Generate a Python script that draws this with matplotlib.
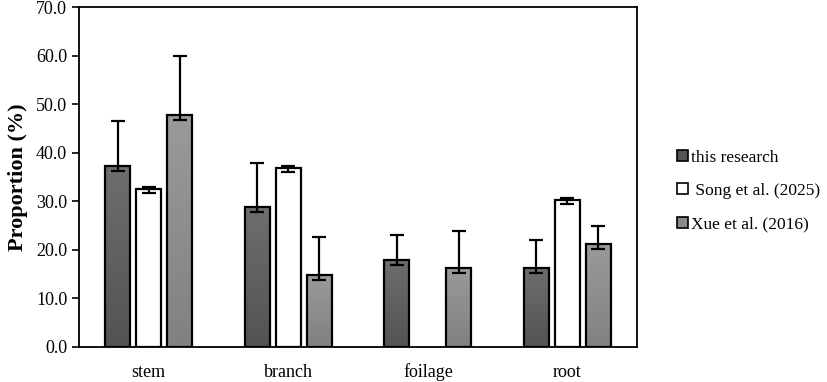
import numpy as np
import matplotlib
matplotlib.use("Agg")
import matplotlib.pyplot as plt
from matplotlib.colors import LinearSegmentedColormap
from matplotlib.patches import Patch

# datos
categories = ["stem", "branch", "foilage", "root"]
series = ["this research", " Song et al. (2025)", "Xue et al. (2016)"]

this_research = [37.2, 28.9, 18.0, 16.3]
this_err_up = [9.4, 8.9, 5.0, 5.7]
this_err_lo = [1.0, 1.1, 1.2, 1.1]

song = [32.6, 36.9, 0.0, 30.2]
song_err_up = [0.4, 0.4, 0.0, 0.4]
song_err_lo = [0.8, 0.8, 0.0, 0.8]

xue = [47.7, 14.9, 16.3, 21.1]
xue_err_up = [12.2, 7.7, 7.5, 3.8]
xue_err_lo = [1.0, 1.1, 1.1, 1.0]

plt.rcParams["font.family"] = ["Liberation Serif", "DejaVu Serif"]

fig = plt.figure(figsize=(8.27, 3.82), dpi=100)
ax = fig.add_axes([0.0955, 0.092, 0.675, 0.889])

x = np.arange(len(categories))
w = 0.179
off = 0.222

values = [this_research, song, xue]
errs = [(this_err_lo, this_err_up), (song_err_lo, song_err_up), (xue_err_lo, xue_err_up)]
# colores del degradado (abajo, arriba); None = blanco liso
grads = [("#535353", "#6e6e6e"), None, ("#818181", "#9a9a9a")]
legend_colors = ["#555555", "white", "#8a8a8a"]

for i, (vals, (lo, up), grad) in enumerate(zip(values, errs, grads)):
    pos = x + (i - 1) * off
    keep = [j for j, v in enumerate(vals) if v > 0]
    pos = pos[keep]
    v = [vals[j] for j in keep]
    bars = ax.bar(pos, v, width=w, facecolor="white" if grad is None else "none",
                  edgecolor="black", linewidth=1.6, zorder=3)
    if grad is not None:
        cmap = LinearSegmentedColormap.from_list("g%d" % i, list(grad))
        g = np.linspace(0, 1, 100).reshape(-1, 1)
        for b in bars:
            x0 = b.get_x()
            ax.imshow(g, extent=[x0, x0 + w, 0, b.get_height()], origin="lower",
                      cmap=cmap, aspect="auto", zorder=2)
    ax.errorbar(pos, v, yerr=[[lo[j] for j in keep], [up[j] for j in keep]],
                fmt="none", ecolor="black", elinewidth=1.6, capsize=5,
                capthick=1.6, zorder=4)

ax.set_xlim(-0.5, 3.5)
ax.set_ylim(0, 70)
ax.set_yticks(np.arange(0, 71, 10))
ax.set_yticklabels(["%.1f" % t for t in np.arange(0, 71, 10)], fontsize=13)
ax.set_xticks(x)
ax.set_xticklabels(categories, fontsize=13)
ax.tick_params(axis="x", length=0, pad=12)
ax.tick_params(axis="y", length=5, width=1.2, direction="out")
for s in ax.spines.values():
    s.set_linewidth(1.3)
ax.set_ylabel("Proportion (%)", fontsize=16, fontweight="bold", labelpad=6)

handles = [Patch(facecolor=c, edgecolor="black", linewidth=1.2) for c in legend_colors]
fig.legend(handles, series, loc="center left", bbox_to_anchor=(0.8, 0.5),
           frameon=False, fontsize=12.5, handlelength=0.6, handleheight=0.6,
           handletextpad=0.2, labelspacing=1.0)

fig.savefig("out.png", dpi=100)
